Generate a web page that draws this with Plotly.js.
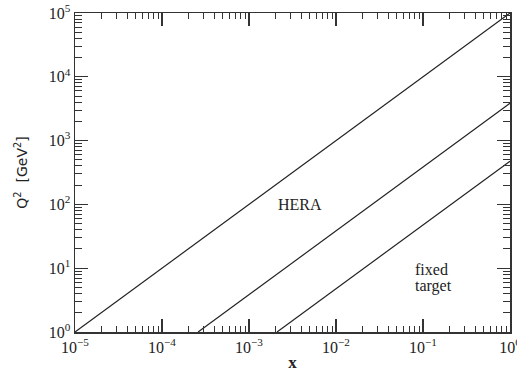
<!DOCTYPE html>
<html><head><meta charset="utf-8">
<script src="https://cdn.plot.ly/plotly-3.0.1.min.js"></script>
<style>html,body{margin:0;padding:0;background:#fff}</style>
</head><body>
<div id="chart" style="width:517px;height:372px"></div>
<script>
// Kinematic limits (log-log)
const line1X = [1e-5, 1];
const line1Y = [1, 1e5];
const line2X = [2.6e-4, 1];
const line2Y = [1, 3850];
const line3X = [2.1e-3, 1];
const line3Y = [1, 476];

const xTickVals = [1e-5, 1e-4, 1e-3, 1e-2, 1e-1, 1];
const xTickText = ['10<sup>−5</sup>','10<sup>−4</sup>','10<sup>−3</sup>','10<sup>−2</sup>','10<sup>−1</sup>','10<sup>0</sup>'];
const yTickVals = [1, 10, 100, 1e3, 1e4, 1e5];
const yTickText = ['10<sup>0</sup>','10<sup>1</sup>','10<sup>2</sup>','10<sup>3</sup>','10<sup>4</sup>','10<sup>5</sup>'];

const labels = [
  {text: 'HERA', x: 3.9e-3, y: 100, anchor: 'center'},
  {text: 'fixed', x: 0.077, y: 9.6, anchor: 'left'},
  {text: 'target', x: 0.077, y: 5.2, anchor: 'left'}
];

function minorVals(lo, hi) {
  const v = [];
  for (let e = lo; e < hi; e++) for (let m = 2; m <= 9; m++) v.push(m * Math.pow(10, e));
  return v;
}

const lineStyle = {color: '#222', width: 1.2};
const traces = [
  {x: line1X, y: line1Y, mode: 'lines', line: lineStyle, hoverinfo: 'none'},
  {x: line2X, y: line2Y, mode: 'lines', line: lineStyle, hoverinfo: 'none'},
  {x: line3X, y: line3Y, mode: 'lines', line: lineStyle, hoverinfo: 'none'}
];

const font = {family: 'Liberation Serif, DejaVu Serif, serif', size: 16, color: '#222'};

const axisCommon = {
  type: 'log', showgrid: false, zeroline: false,
  showline: true, linecolor: '#333', linewidth: 1.5, mirror: 'allticks',
  ticks: 'inside', ticklen: 13, tickwidth: 1.2, tickcolor: '#333',
  tickfont: font, ticklabeloverflow: 'allow'
};

const layout = {
  width: 517, height: 372,
  margin: {l: 75, r: 7, t: 13, b: 40},
  paper_bgcolor: '#fff', plot_bgcolor: '#fff',
  showlegend: false,
  font: font,
  xaxis: Object.assign({}, axisCommon, {
    range: [-5, 0], tickvals: xTickVals, ticktext: xTickText,
    minor: {tickvals: minorVals(-5, 0), ticks: 'inside', ticklen: 6, tickwidth: 1, tickcolor: '#333'},
    title: {text: '<b>x</b>', font: {family: 'Liberation Serif, serif', size: 17, color: '#222'}, standoff: 2}
  }),
  yaxis: Object.assign({}, axisCommon, {
    range: [0, 5], tickvals: yTickVals, ticktext: yTickText,
    minor: {tickvals: minorVals(0, 5), ticks: 'inside', ticklen: 7, tickwidth: 1, tickcolor: '#333'},
    title: {text: 'Q<sup>2</sup>  [GeV<sup>2</sup>]', font: {family: 'DejaVu Sans, sans-serif', size: 14, color: '#222'}, standoff: 18}
  }),
  annotations: labels.map(l => ({
    x: Math.log10(l.x), y: Math.log10(l.y), xref: 'x', yref: 'y', text: l.text,
    showarrow: false, align: 'left', xanchor: l.anchor, yanchor: 'middle',
    font: {family: 'Liberation Serif, serif', size: 16, color: '#222'}
  }))
};

Plotly.newPlot('chart', traces, layout, {staticPlot: true, displayModeBar: false});
</script>
</body></html>
